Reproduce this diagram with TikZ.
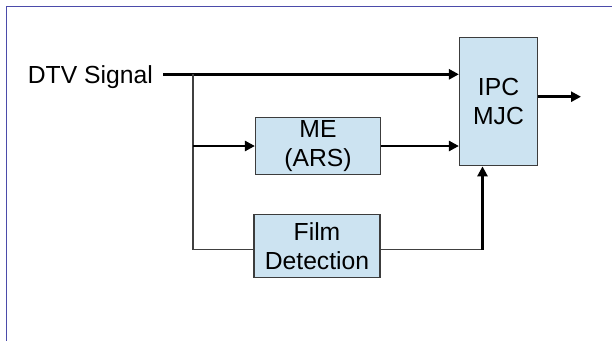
\documentclass[tikz,border=0pt]{standalone}
\usepackage{fontspec}
\setmainfont{Liberation Sans}
\usepackage{xcolor}
\usetikzlibrary{arrows.meta,positioning}

\definecolor{boxfill}{HTML}{CCE3F1}
\definecolor{boxline}{HTML}{3C3C3C}
\definecolor{framecol}{HTML}{4B4BAA}

\tikzset{
  block/.style={draw=boxline, line width=1.2bp, fill=boxfill, align=center,
    inner sep=0pt},
  sig/.style={-{Triangle[length=10bp,width=10bp]}, line width=2.5bp},
  tap/.style={line width=1.3bp, draw=black!75},
}

\begin{document}
\begin{tikzpicture}[x=1bp, y=-1bp,
    font=\fontsize{24.7bp}{29.6bp}\selectfont]
            \useasboundingbox (0,0) rectangle (612,341);
            \draw[framecol, line width=1.8bp] (612,6.5) -| (6.5,341);

            \node[anchor=east, inner xsep=10bp, inner ysep=0pt, text height=17.7bp, text depth=0pt] (dtv) at (163,74.3) {DTV Signal};
            \node[block, minimum width=78bp, minimum height=128.5bp] (ipc) at (498.5,101.5) {IPC\\MJC};
            \node[block, minimum width=125bp, minimum height=57.5bp] (me) at (318,146) {ME\\(ARS)};
            \node[block, minimum width=126bp, minimum height=63.5bp] (film) at (317,246) {Film\\Detection};

            \coordinate (split) at (193,74.3);
            \coordinate (up) at (482.5,249.8);
            \coordinate (out) at (581,96.7);

            \draw[sig] (dtv.east) -- (dtv.east -| ipc.west);
            \draw[tap] (split) |- ([yshift=-3.5bp]film.west);
            \draw[sig] (split |- me.west) -- (me.west);
            \draw[sig] (me.east) -- (me.east -| ipc.west);
            \draw[tap] (film.east |- up) -- (up);
            \draw[sig] (up) -- (up |- ipc.south);
            \draw[sig] (ipc.east |- out) -- (out);
        \end{tikzpicture}
\end{document}
